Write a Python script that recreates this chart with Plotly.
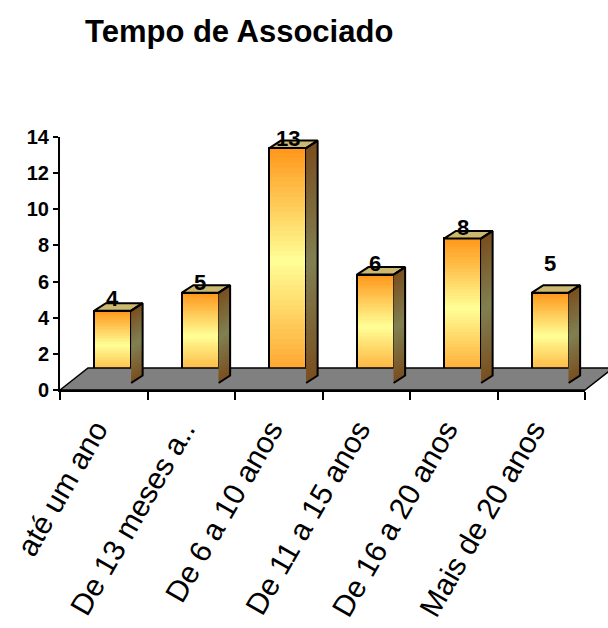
import plotly.graph_objects as go

# ---- data ----
CATEGORIES = ["até um ano", "De 13 meses a..", "De 6 a 10 anos",
              "De 11 a 15 anos", "De 16 a 20 anos", "Mais de 20 anos"]
VALUES = [4, 5, 13, 6, 8, 5]
Y_TICKS = [0, 2, 4, 6, 8, 10, 12, 14]
TITLE = "Tempo de Associado"

# ---- page geometry (pixels) ----
W, H = 608, 628
AX_LEFT, AX_RIGHT = 60, 585          # category axis span
AX_ZERO, AX_TOP = 390, 137           # value 0 and value 14
Y_MAX = 14
PX_CAT = (AX_RIGHT - AX_LEFT) / len(CATEGORIES)
PX_VAL = (AX_ZERO - AX_TOP) / Y_MAX

# 3D projection: bar front plane sits behind the axis plane
BAR_SHIFT_X, BAR_SHIFT_Y = 9, 7      # px right / up
BAR_DEPTH_X, BAR_DEPTH_Y = 11.5, 7.5  # px right / up for bar depth
FLOOR_DEPTH_X, FLOOR_DEPTH_Y = 28, 22
BAR_W = 0.42

bdx = BAR_DEPTH_X / PX_CAT
bdy = BAR_DEPTH_Y / PX_VAL

# ---- colour ramps ----
def lerp(c1, c2, t):
    return tuple(c1[i] + (c2[i] - c1[i]) * t for i in range(3))

def ramp(stops, t):
    for (t0, c0), (t1, c1) in zip(stops[:-1], stops[1:]):
        if t <= t1:
            return lerp(c0, c1, (t - t0) / (t1 - t0))
    return stops[-1][1]

def rgb(c):
    return "rgb(%d,%d,%d)" % tuple(round(v) for v in c)

FRONT_STOPS = [(0.0, (255, 150, 25)), (0.48, (255, 255, 150)), (1.0, (255, 155, 35))]
SIDE_STOPS = [(0.0, (122, 78, 30)), (0.5, (128, 128, 82)), (1.0, (122, 78, 30))]
TOP_COLOR = "rgb(204,184,110)"
FLOOR_COLOR = "rgb(128,128,128)"

N_STEPS = 48

fig = go.Figure()

# invisible carrier trace so the category axis gets its labels
fig.add_trace(go.Scatter(x=CATEGORIES, y=VALUES, mode="markers",
                         marker=dict(opacity=0), hoverinfo="skip",
                         showlegend=False, xaxis="x", yaxis="y"))

# ---- floor (geometry axes: x = category index, y = value) ----
fx0 = -0.5 - BAR_SHIFT_X / PX_CAT
fx1 = len(CATEGORIES) - 0.5 - BAR_SHIFT_X / PX_CAT
fy0 = -BAR_SHIFT_Y / PX_VAL
fdx = FLOOR_DEPTH_X / PX_CAT
fdy = FLOOR_DEPTH_Y / PX_VAL
fig.add_trace(go.Scatter(
    x=[fx0, fx1, fx1 + fdx, fx0 + fdx, fx0],
    y=[fy0, fy0, fy0 + fdy, fy0 + fdy, fy0],
    mode="lines", fill="toself", fillcolor=FLOOR_COLOR,
    line=dict(color="black", width=1.5), hoverinfo="skip",
    showlegend=False, xaxis="x2", yaxis="y2"))

idx = list(range(len(VALUES)))

# ---- front faces: stacked slices forming a vertical gradient ----
for k in range(N_STEPS):
    t = 1 - (k + 0.5) / N_STEPS
    fig.add_trace(go.Bar(
        x=idx, y=[v * 1.6 / N_STEPS if k < N_STEPS - 1 else v / N_STEPS for v in VALUES],
        base=[v * k / N_STEPS for v in VALUES], width=BAR_W,
        marker=dict(color=rgb(ramp(FRONT_STOPS, t)), line=dict(width=0)),
        hoverinfo="skip", showlegend=False, xaxis="x2", yaxis="y2"))

# ---- side faces: gradient slices ----
for k in range(N_STEPS):
    t = 1 - (k + 0.5) / N_STEPS
    xs, ys = [], []
    for i, v in zip(idx, VALUES):
        x1 = i + BAR_W / 2
        lo = v * k / N_STEPS
        hi = v * (k + 1.6) / N_STEPS if k < N_STEPS - 1 else v
        xs += [x1, x1 + bdx, x1 + bdx, x1, x1, None]
        ys += [lo, lo + bdy, hi + bdy, hi, lo, None]
    fig.add_trace(go.Scatter(
        x=xs, y=ys, mode="lines", fill="toself",
        fillcolor=rgb(ramp(SIDE_STOPS, t)), line=dict(width=0),
        hoverinfo="skip", showlegend=False, xaxis="x2", yaxis="y2"))

# ---- top faces ----
xs, ys = [], []
for i, v in zip(idx, VALUES):
    x0, x1 = i - BAR_W / 2, i + BAR_W / 2
    xs += [x0, x1, x1 + bdx, x0 + bdx, x0, None]
    ys += [v, v, v + bdy, v + bdy, v, None]
fig.add_trace(go.Scatter(
    x=xs, y=ys, mode="lines", fill="toself", fillcolor=TOP_COLOR,
    line=dict(color="black", width=2), hoverinfo="skip",
    showlegend=False, xaxis="x2", yaxis="y2"))

# ---- side outlines ----
xs, ys = [], []
for i, v in zip(idx, VALUES):
    x1 = i + BAR_W / 2
    xs += [x1, x1 + bdx, x1 + bdx, x1, None]
    ys += [0, bdy, v + bdy, v, None]
fig.add_trace(go.Scatter(
    x=xs, y=ys, mode="lines", line=dict(color="black", width=2),
    hoverinfo="skip", showlegend=False, xaxis="x2", yaxis="y2"))

# ---- front outlines ----
fig.add_trace(go.Bar(
    x=idx, y=VALUES, width=BAR_W,
    marker=dict(color="rgba(0,0,0,0)", line=dict(color="black", width=2)),
    hoverinfo="skip", showlegend=False, xaxis="x2", yaxis="y2"))

# ---- value labels ----
LABEL_LIFT = [12, 10, 10, 11, 11, 29]
for i, v, lift in zip(idx, VALUES, LABEL_LIFT):
    fig.add_annotation(x=i, y=v, xref="x2", yref="y2", text=str(v),
                       showarrow=False, yshift=lift, yanchor="middle",
                       font=dict(family="Liberation Sans, Arial", size=22,
                                 color="black", weight="bold"))

# ---- axes ----
gx_left = -0.5 - (AX_LEFT + BAR_SHIFT_X) / PX_CAT
gx_right = gx_left + W / PX_CAT
gy_top = (AX_ZERO - BAR_SHIFT_Y) / PX_VAL
gy_bottom = gy_top - H / PX_VAL

fig.update_layout(
    width=W, height=H,
    margin=dict(l=0, r=0, t=0, b=0, pad=0, autoexpand=False),
    paper_bgcolor="white", plot_bgcolor="rgba(0,0,0,0)",
    barmode="overlay", bargap=0,
    showlegend=False,
    xaxis=dict(type="category", domain=[AX_LEFT / W, AX_RIGHT / W],
               range=[-0.5, len(CATEGORIES) - 0.5], anchor="y",
               automargin=False,
               tickson="boundaries", ticks="outside", ticklen=8,
               tickwidth=2, tickcolor="black", showline=True,
               linecolor="black", linewidth=2, showgrid=False,
               zeroline=False, tickangle=-60, ticklabelstandoff=8,
               ticklabelshift=-8,
               tickfont=dict(family="Liberation Sans, Arial", size=30,
                             color="black")),
    yaxis=dict(domain=[(H - AX_ZERO) / H, (H - AX_TOP) / H],
               range=[0, Y_MAX], anchor="x", tickvals=Y_TICKS,
               automargin=False,
               ticks="outside", ticklen=5, tickwidth=2, tickcolor="black",
               showline=True, linecolor="black", linewidth=2,
               showgrid=False, zeroline=False,
               tickfont=dict(family="Liberation Sans, Arial", size=20,
                             color="black", weight="bold")),
    xaxis2=dict(domain=[0, 1], range=[gx_left, gx_right], anchor="y2",
                visible=False, fixedrange=True, automargin=False),
    yaxis2=dict(domain=[0, 1], range=[gy_bottom, gy_top], anchor="x2",
                visible=False, fixedrange=True, automargin=False),
)

fig.add_annotation(x=239 / W, y=1 - 31 / H, xref="paper", yref="paper",
                   text=TITLE, showarrow=False, xanchor="center",
                   yanchor="middle",
                   font=dict(family="Liberation Sans, Arial", size=31,
                             color="black", weight="bold"))

fig.write_html("out.html")
